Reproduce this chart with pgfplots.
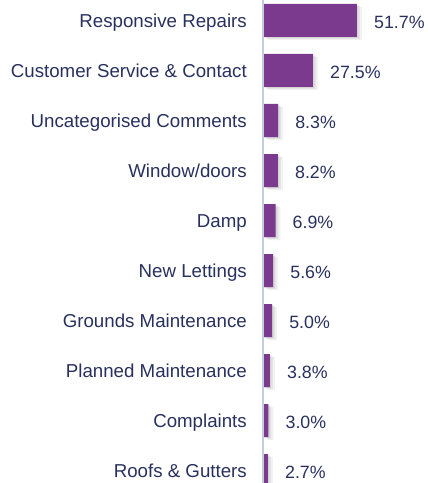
\documentclass[border=0pt]{standalone}
\usepackage{fontspec}
\setmainfont{Liberation Sans}
\usepackage{pgfplots}
\pgfplotsset{compat=1.18}

\definecolor{barpurple}{HTML}{7B3A8E}
\definecolor{labelnavy}{HTML}{28305E}
\definecolor{axisgray}{HTML}{C3CFDE}

\pgfplotstableread{
val pos label
51.7 0 51.7\%
27.5 1 27.5\%
8.3  2 8.3\%
8.2  3 8.2\%
6.9  4 6.9\%
5.6  5 5.6\%
5.0  6 5.0\%
3.8  7 3.8\%
3.0  8 3.0\%
2.7  9 2.7\%
}\shares

\begin{document}
\begin{tikzpicture}
\useasboundingbox (-263bp,0) rectangle (165bp,483bp);
\begin{axis}[
    at={(0,0)}, anchor=south west,
    scale only axis,
    width=165bp, height=483bp,
    xmin=0, xmax=90.75,
    ymin=-0.41, ymax=9.25,
    y dir=reverse,
    axis x line=none,
    axis y line*=left,
    axis line style={draw=axisgray, line width=1.5bp},
    ytick={0,...,9},
    yticklabels={Responsive Repairs, Customer Service \& Contact, Uncategorised Comments,
        Window/doors, Damp, New Lettings, Grounds Maintenance, Planned Maintenance,
        Complaints, Roofs \& Gutters},
    major tick length=0pt,
    ytick style={draw=none},
    yticklabel style={font=\fontsize{18.7bp}{21bp}\selectfont, text=labelnavy,
        anchor=east, inner sep=0pt, text height=13.4bp, text depth=0pt, xshift=-16bp},
    axis on top,
]
% soft shadow, built from a few translucent offset copies of the bars
\addplot[xbar, bar width=0.66, fill=black, draw=none, opacity=0.05,
    xshift=5bp, yshift=-3bp, forget plot] table[x=val, y=pos] {\shares};
\addplot[xbar, bar width=0.66, fill=black, draw=none, opacity=0.06,
    xshift=3bp, yshift=-2bp, forget plot] table[x=val, y=pos] {\shares};
\addplot[xbar, bar width=0.66, fill=black, draw=none, opacity=0.07,
    xshift=1.5bp, yshift=-1bp, forget plot] table[x=val, y=pos] {\shares};
\addplot[xbar, bar width=0.66, fill=barpurple, draw=none,
    point meta=explicit symbolic,
    nodes near coords,
    every node near coord/.append style={font=\fontsize{17.8bp}{20bp}\selectfont,
        text=labelnavy, anchor=west, inner sep=0pt, text height=12.7bp,
        text depth=0pt, xshift=17bp, yshift=-1.5bp}]
    table[x=val, y=pos, meta=label] {\shares};
\end{axis}
\end{tikzpicture}
\end{document}
